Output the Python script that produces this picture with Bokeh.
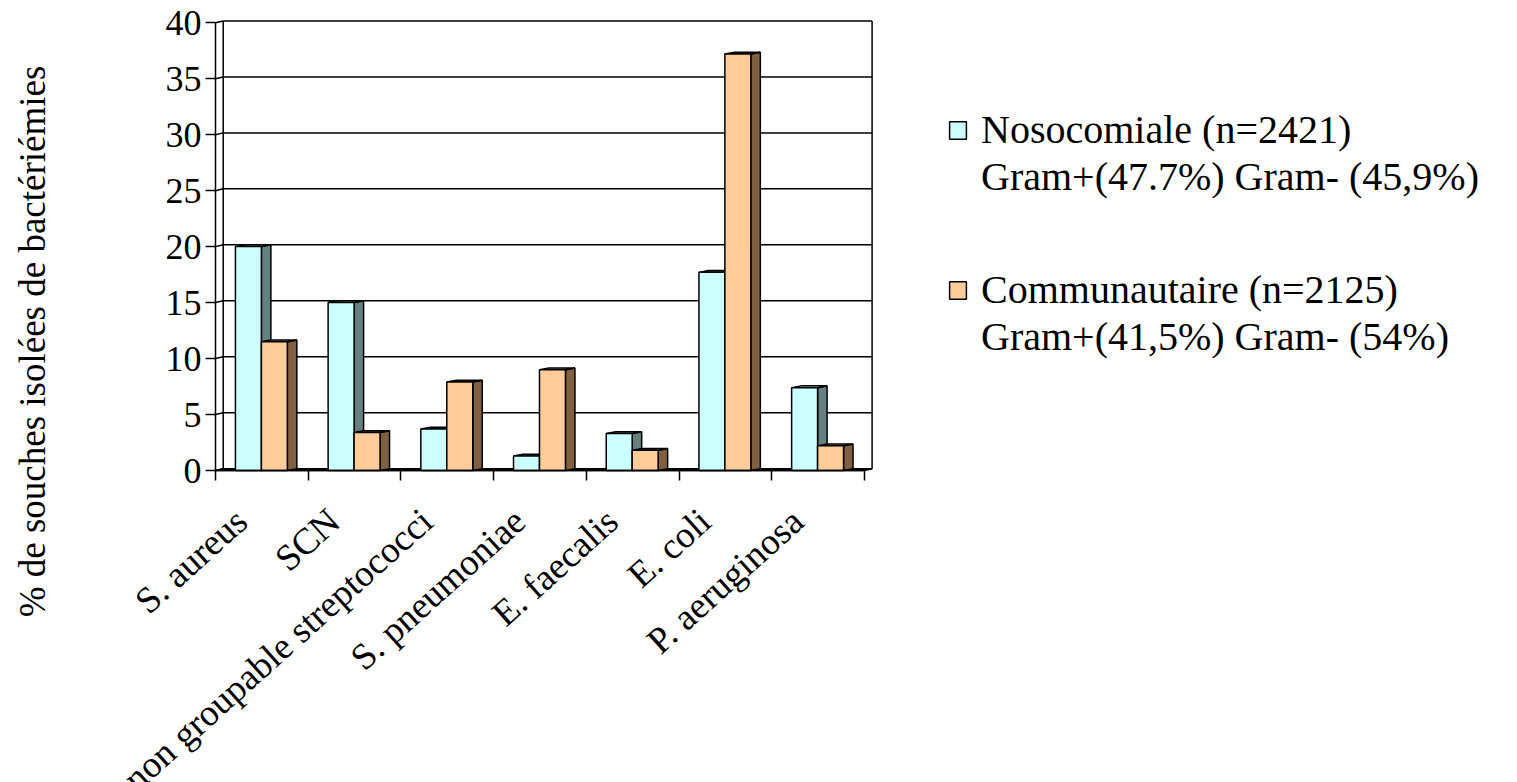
from bokeh.plotting import figure
from bokeh.models import (Range1d, LinearAxis, FixedTicker, ColumnDataSource,
                          LabelSet, Label, Legend, LegendItem)
from bokeh.embed import file_html
from bokeh.resources import INLINE

# --- data -------------------------------------------------------------
categories = ["S. aureus", "SCN", "non groupable streptococci", "S. pneumoniae",
              "E. faecalis", "E. coli", "P. aeruginosa"]
nosocomiale = [20.0, 15.0, 3.7, 1.3, 3.3, 17.7, 7.4]
communautaire = [11.5, 3.4, 7.9, 9.0, 1.8, 37.2, 2.2]
y_ticks = [0, 5, 10, 15, 20, 25, 30, 35, 40]
y_title = "% de souches isolées de bactériémies"
legend_noso = ["Nosocomiale (n=2421)", "Gram+(47.7%) Gram- (45,9%)"]
legend_comm = ["Communautaire (n=2125)", "Gram+(41,5%) Gram- (54%)"]

# --- layout / styling -------------------------------------------------
W, H = 1517, 782
X0_PX, Y0_PX = 215, 470            # where the origin of the axes sits on the page
PX_CAT = 92.7                      # pixels per category slot
PX_Y = 11.194                      # pixels per percentage point
N = len(categories)

x_range = Range1d(-X0_PX / PX_CAT, (W - X0_PX) / PX_CAT)
y_range = Range1d(-(H - Y0_PX) / PX_Y, Y0_PX / PX_Y)

wdx, wdy = 7.7 / PX_CAT, 1.8 / PX_Y     # depth of the back wall
bdx, bdy = 9.5 / PX_CAT, 1.8 / PX_Y     # depth of each bar
bar_w, gap0 = 0.28, 0.215

FONT = "Liberation Serif"
BLUE, BLUE_SIDE, BLUE_TOP = "#CCFFFF", "#668080", "#99CCCC"
ORANGE, ORANGE_SIDE, ORANGE_TOP = "#FFCC99", "#806040", "#B38F6B"
LW = 1.5

p = figure(width=W, height=H, x_range=x_range, y_range=y_range,
           output_backend="svg", toolbar_location=None, title=None,
           x_axis_type=None, y_axis_type=None,
           min_border_left=0, min_border_right=0, min_border_top=0,
           min_border_bottom=0)
p.outline_line_color = None
p.xgrid.visible = False
p.ygrid.visible = False
p.background_fill_color = "white"
p.border_fill_color = "white"

# --- axes (pinned at the data origin) ---------------------------------
yaxis = LinearAxis(ticker=FixedTicker(ticks=y_ticks), bounds=(y_ticks[0], y_ticks[-1]),
                   fixed_location=0)
yaxis.major_tick_out = 10
yaxis.major_tick_in = 0
yaxis.minor_tick_out = 0
yaxis.minor_tick_in = 0
yaxis.axis_line_width = LW
yaxis.major_tick_line_width = LW
yaxis.axis_line_color = "black"
yaxis.major_label_text_font = FONT
yaxis.major_label_text_font_size = "36px"
yaxis.major_label_text_color = "black"
yaxis.major_label_standoff = 4
p.add_layout(yaxis, "left")

x_ticks = list(range(N + 1))
xaxis = LinearAxis(ticker=FixedTicker(ticks=x_ticks), bounds=(0, N), fixed_location=0)
xaxis.major_tick_out = 10
xaxis.major_tick_in = 0
xaxis.minor_tick_out = 0
xaxis.minor_tick_in = 0
xaxis.axis_line_width = LW
xaxis.major_tick_line_width = LW
xaxis.major_label_overrides = {t: "" for t in x_ticks}
p.add_layout(xaxis, "below")

# --- back wall, left wall and floor -----------------------------------
top_val = y_ticks[-1]
p.segment(x0=[wdx] * len(y_ticks), y0=[t + wdy for t in y_ticks],
          x1=[N + wdx] * len(y_ticks), y1=[t + wdy for t in y_ticks],
          line_color="black", line_width=LW)
p.segment(x0=[0] * len(y_ticks), y0=y_ticks,
          x1=[wdx] * len(y_ticks), y1=[t + wdy for t in y_ticks],
          line_color="black", line_width=LW)
p.segment(x0=[wdx, N + wdx], y0=[wdy, wdy], x1=[wdx, N + wdx], y1=[top_val + wdy] * 2,
          line_color="black", line_width=LW)
p.patch(x=[0, N, N + wdx, wdx], y=[0, 0, wdy, wdy],
        fill_color="black", line_color="black", line_width=LW)


# --- 3-D bars ---------------------------------------------------------
def bar_faces(vals, offset):
    left = [i + offset for i in range(len(vals))]
    right = [l + bar_w for l in left]
    front = ColumnDataSource(dict(left=left, right=right, top=vals, bottom=[0] * len(vals)))
    side = ColumnDataSource(dict(
        xs=[[r, r + bdx, r + bdx, r] for r in right],
        ys=[[0, bdy, v + bdy, v] for v in vals]))
    cap = ColumnDataSource(dict(
        xs=[[l, r, r + bdx, l + bdx] for l, r in zip(left, right)],
        ys=[[v, v, v + bdy, v + bdy] for v in vals]))
    return front, side, cap


def draw_series(vals, offset, face, side_c, top_c):
    front, side, cap = bar_faces(vals, offset)
    p.patches("xs", "ys", source=side, fill_color=side_c, line_color="black", line_width=LW)
    p.patches("xs", "ys", source=cap, fill_color=top_c, line_color="black", line_width=LW)
    return p.quad(left="left", right="right", top="top", bottom="bottom", source=front,
                  fill_color=face, line_color="black", line_width=LW)


r_noso = draw_series(nosocomiale, gap0, BLUE, BLUE_SIDE, BLUE_TOP)
r_comm = draw_series(communautaire, gap0 + bar_w, ORANGE, ORANGE_SIDE, ORANGE_TOP)

# --- category labels --------------------------------------------------
cat_src = ColumnDataSource(dict(x=[i + 0.5 for i in range(N)], y=[0] * N, text=categories))
p.add_layout(LabelSet(x="x", y="y", text="text", source=cat_src,
                      angle=42, angle_units="deg", text_align="right",
                      text_baseline="middle", x_offset=-20.5, y_offset=-45,
                      text_font=FONT, text_font_size="37px", text_color="black"))

# --- y axis title -----------------------------------------------------
p.add_layout(Label(x=32, y=H - 341, x_units="screen", y_units="screen",
                   text=y_title, angle=90, angle_units="deg", text_align="center",
                   text_baseline="middle", text_font=FONT, text_font_size="37px",
                   text_color="black"))

# --- legend -----------------------------------------------------------
blank = p.scatter(x=[], y=[], fill_alpha=0, line_alpha=0)


def make_legend(lines, renderer, bottom_px):
    leg = Legend(items=[LegendItem(label=lines[0], renderers=[renderer]),
                        LegendItem(label=lines[1], renderers=[blank])],
                 location=(947, H - bottom_px),
                 glyph_width=21, glyph_height=22, label_standoff=13,
                 label_height=47, spacing=0, padding=0, margin=0,
                 border_line_color=None, background_fill_alpha=0,
                 label_text_font=FONT, label_text_font_size="40px",
                 label_text_color="black")
    p.add_layout(leg)


make_legend(legend_noso, r_noso, 200)
make_legend(legend_comm, r_comm, 360)

open("out.html", "w").write(file_html(p, INLINE))
